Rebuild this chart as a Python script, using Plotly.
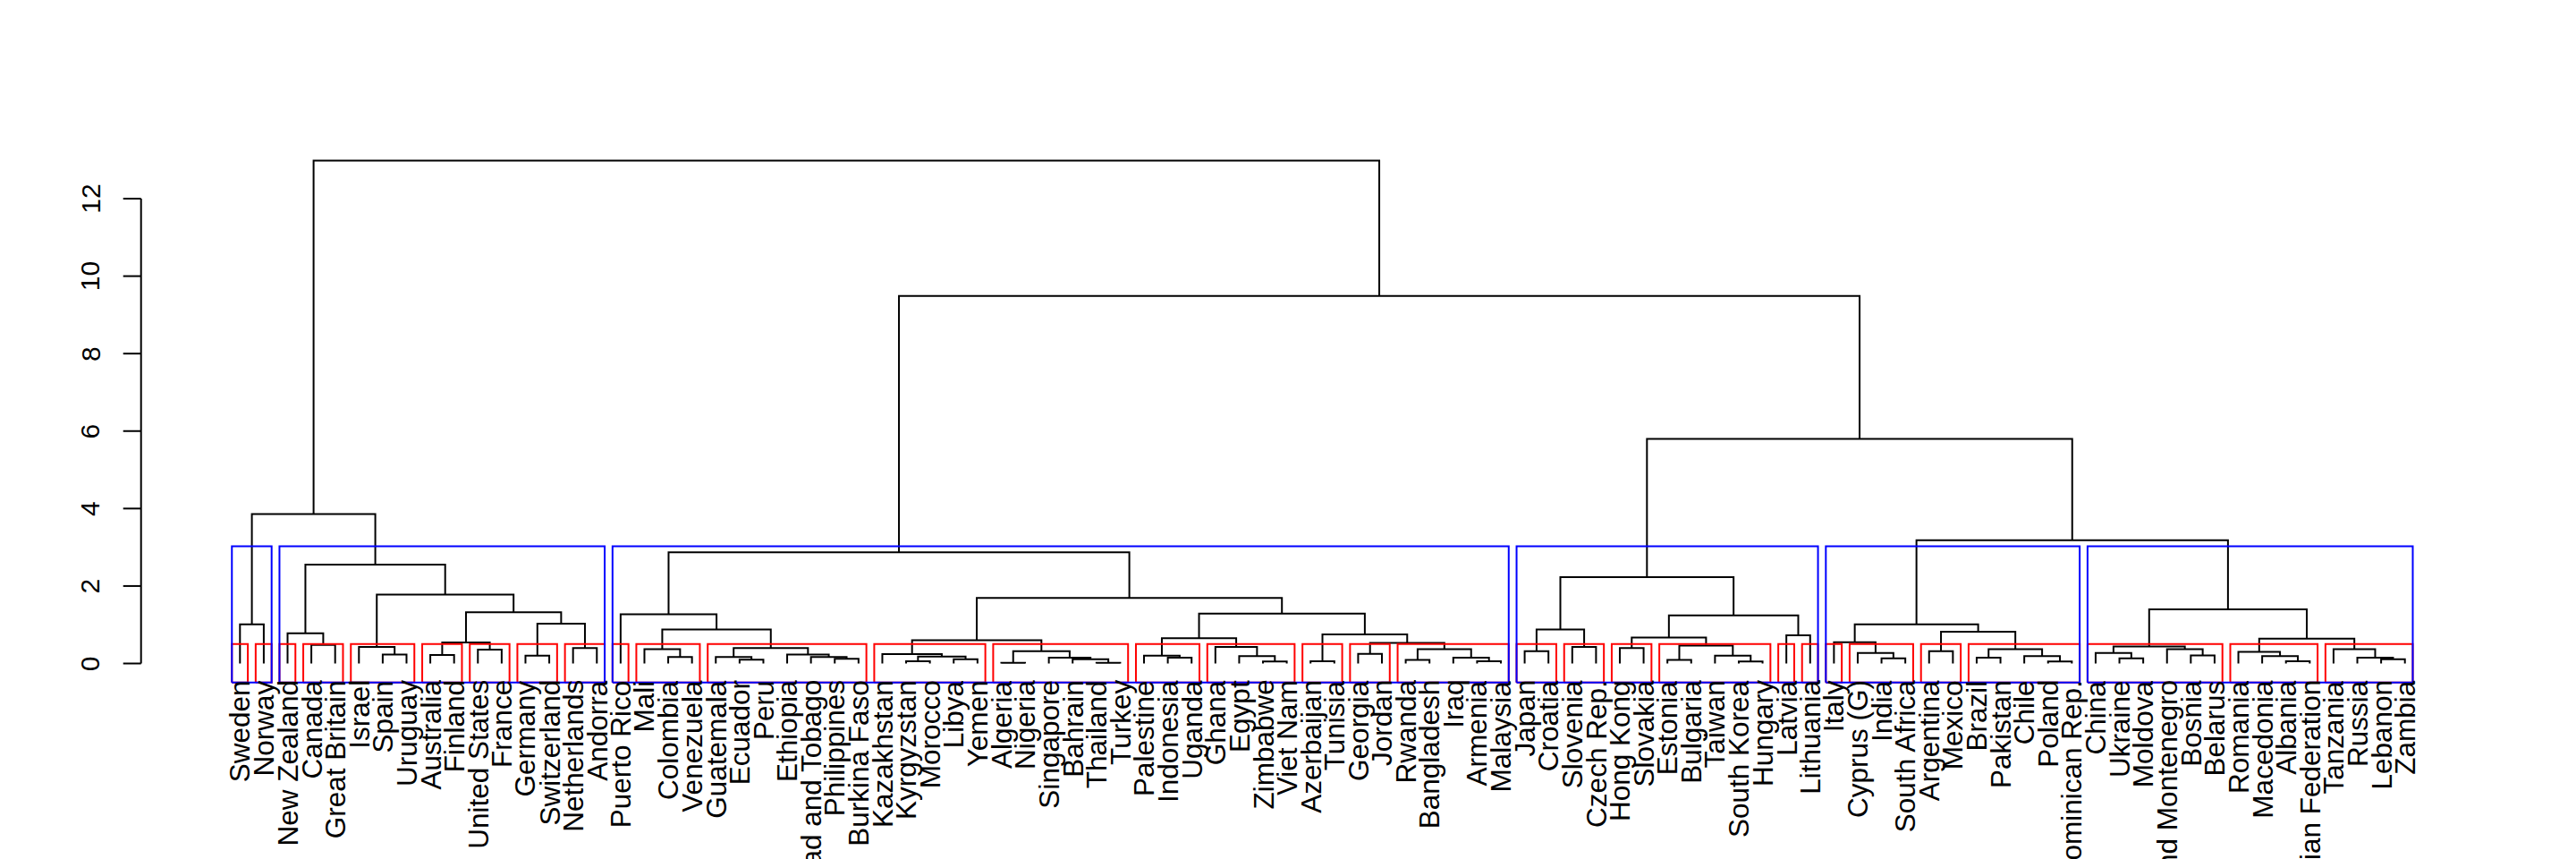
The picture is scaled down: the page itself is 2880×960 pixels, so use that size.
import plotly.graph_objects as go

# ---------------- data ----------------
leaf_labels = [
    "Sweden", "Norway", "New Zealand", "Canada", "Great Britain", "Israel", "Spain", "Uruguay",
    "Australia", "Finland", "United States", "France", "Germany", "Switzerland", "Netherlands", "Andorra",
    "Puerto Rico", "Mali", "Colombia", "Venezuela", "Guatemala", "Ecuador", "Peru", "Ethiopia",
    "Trinidad and Tobago", "Philippines", "Burkina Faso", "Kazakhstan", "Kyrgyzstan", "Morocco", "Libya", "Yemen",
    "Algeria", "Nigeria", "Singapore", "Bahrain", "Thailand", "Turkey", "Palestine", "Indonesia",
    "Uganda", "Ghana", "Egypt", "Zimbabwe", "Viet Nam", "Azerbaijan", "Tunisia", "Georgia",
    "Jordan", "Rwanda", "Bangladesh", "Iraq", "Armenia", "Malaysia", "Japan", "Croatia",
    "Slovenia", "Czech Rep.", "Hong Kong", "Slovakia", "Estonia", "Bulgaria", "Taiwan", "South Korea",
    "Hungary", "Latvia", "Lithuania", "Italy", "Cyprus (G)", "India", "South Africa", "Argentina",
    "Mexico", "Brazil", "Pakistan", "Chile", "Poland", "Dominican Rep.", "China", "Ukraine",
    "Moldova", "Serbia and Montenegro", "Bosnia", "Belarus", "Romania", "Macedonia", "Albania", "Russian Federation",
    "Tanzania", "Russia", "Lebanon", "Zambia",
]

# merges: (node name, left child, right child, merge height)
merges = [
    # western group
    ("SwNo", "Sweden", "Norway", 1.01),
    ("CaGB", "Canada", "Great Britain", 0.48),
    ("NZ", "New Zealand", "CaGB", 0.78),
    ("SpUr", "Spain", "Uruguay", 0.23),
    ("Is", "Israel", "SpUr", 0.43),
    ("AuFi", "Australia", "Finland", 0.22),
    ("USFr", "United States", "France", 0.36),
    ("AFUF", "AuFi", "USFr", 0.54),
    ("GeSw", "Germany", "Switzerland", 0.20),
    ("NeAn", "Netherlands", "Andorra", 0.40),
    ("GSNA", "GeSw", "NeAn", 1.03),
    ("W4", "AFUF", "GSNA", 1.32),
    ("W3", "Is", "W4", 1.78),
    ("W2", "NZ", "W3", 2.55),
    ("W", "SwNo", "W2", 3.86),
    # third group
    ("CoVe", "Colombia", "Venezuela", 0.17),
    ("Ma", "Mali", "CoVe", 0.37),
    ("EcPe", "Ecuador", "Peru", 0.10),
    ("Gu", "Guatemala", "EcPe", 0.17),
    ("PhBF", "Philippines", "Burkina Faso", 0.12),
    ("TT", "Trinidad and Tobago", "PhBF", 0.17),
    ("Et", "Ethiopia", "TT", 0.23),
    ("GuEt", "Gu", "Et", 0.40),
    ("MaGu", "Ma", "GuEt", 0.88),
    ("PR", "Puerto Rico", "MaGu", 1.27),
    ("KyMo", "Kyrgyzstan", "Morocco", 0.06),
    ("LiYe", "Libya", "Yemen", 0.11),
    ("KMLY", "KyMo", "LiYe", 0.18),
    ("Ka", "Kazakhstan", "KMLY", 0.24),
    ("AlNi", "Algeria", "Nigeria", 0.02),
    ("ThTu", "Thailand", "Turkey", 0.02),
    ("Ba", "Bahrain", "ThTu", 0.11),
    ("Si", "Singapore", "Ba", 0.15),
    ("ANSi", "AlNi", "Si", 0.32),
    ("KaAl", "Ka", "ANSi", 0.60),
    ("InUg", "Indonesia", "Uganda", 0.15),
    ("Pa", "Palestine", "InUg", 0.20),
    ("ZiVi", "Zimbabwe", "Viet Nam", 0.05),
    ("Eg", "Egypt", "ZiVi", 0.19),
    ("Gh", "Ghana", "Eg", 0.43),
    ("PaGh", "Pa", "Gh", 0.65),
    ("AzTu", "Azerbaijan", "Tunisia", 0.06),
    ("GeJo", "Georgia", "Jordan", 0.25),
    ("RwBa", "Rwanda", "Bangladesh", 0.09),
    ("ArMa", "Armenia", "Malaysia", 0.06),
    ("Ir", "Iraq", "ArMa", 0.15),
    ("RwIr", "RwBa", "Ir", 0.37),
    ("GeRw", "GeJo", "RwIr", 0.53),
    ("AzGe", "AzTu", "GeRw", 0.75),
    ("PaAz", "PaGh", "AzGe", 1.29),
    ("KaPa", "KaAl", "PaAz", 1.69),
    ("G3", "PR", "KaPa", 2.87),
    # fourth group
    ("JaCr", "Japan", "Croatia", 0.32),
    ("SlCz", "Slovenia", "Czech Rep.", 0.43),
    ("JCSC", "JaCr", "SlCz", 0.88),
    ("HKSl", "Hong Kong", "Slovakia", 0.40),
    ("EsBu", "Estonia", "Bulgaria", 0.09),
    ("SKHu", "South Korea", "Hungary", 0.05),
    ("Ta", "Taiwan", "SKHu", 0.20),
    ("EsTa", "EsBu", "Ta", 0.46),
    ("HKEs", "HKSl", "EsTa", 0.67),
    ("LaLi", "Latvia", "Lithuania", 0.73),
    ("HKLa", "HKEs", "LaLi", 1.24),
    ("G4", "JCSC", "HKLa", 2.23),
    # fifth group
    ("InSA", "India", "South Africa", 0.13),
    ("Cy", "Cyprus (G)", "InSA", 0.27),
    ("It", "Italy", "Cy", 0.55),
    ("ArMe", "Argentina", "Mexico", 0.32),
    ("BrPa", "Brazil", "Pakistan", 0.15),
    ("PoDR", "Poland", "Dominican Rep.", 0.05),
    ("Ch", "Chile", "PoDR", 0.19),
    ("BrCh", "BrPa", "Ch", 0.37),
    ("AMBr", "ArMe", "BrCh", 0.82),
    ("G5", "It", "AMBr", 1.01),
    # sixth group
    ("UkMo", "Ukraine", "Moldova", 0.13),
    ("Cn", "China", "UkMo", 0.27),
    ("BoBe", "Bosnia", "Belarus", 0.21),
    ("SM", "Serbia and Montenegro", "BoBe", 0.37),
    ("CnSM", "Cn", "SM", 0.44),
    ("AlRF", "Albania", "Russian Federation", 0.06),
    ("Mac", "Macedonia", "AlRF", 0.19),
    ("Ro", "Romania", "Mac", 0.30),
    ("LeZa", "Lebanon", "Zambia", 0.11),
    ("Ru", "Russia", "LeZa", 0.15),
    ("Tz", "Tanzania", "Ru", 0.37),
    ("RoTz", "Ro", "Tz", 0.64),
    ("G6", "CnSM", "RoTz", 1.40),
    # top
    ("G56", "G5", "G6", 3.18),
    ("G456", "G4", "G56", 5.80),
    ("G3456", "G3", "G456", 9.49),
    ("root", "W", "G3456", 12.98),
]

y_ticks = [0, 2, 4, 6, 8, 10, 12]
outer_k = 6    # blue boxes
inner_k = 32   # red boxes

# ---------------- geometry (pixel calibration) ----------------
W, H = 2880, 960
LEAF0_PX, LEAF_STEP_PX = 268.3, 26.598
ZERO_PX, UNIT_PX = 741.5, 43.29


def px_to_x(px):
    return 1 + (px - LEAF0_PX) / LEAF_STEP_PX


def px_to_y(py):
    return (ZERO_PX - py) / UNIT_PX


x_range = [px_to_x(0), px_to_x(W)]
y_range = [px_to_y(H), px_to_y(0)]
box_bottom = px_to_y(762.7)

# ---------------- build tree ----------------
pos = {lab: i + 1 for i, lab in enumerate(leaf_labels)}
hgt = {lab: 0.0 for lab in leaf_labels}
span = {lab: (i + 1, i + 1) for i, lab in enumerate(leaf_labels)}
children = {}
dx, dy = [], []
for name, a, b, h in merges:
    xa, xb = pos[a], pos[b]
    dx += [xa, xa, xb, xb, None]
    dy += [hgt[a], h, h, hgt[b], None]
    pos[name] = (xa + xb) / 2
    hgt[name] = h
    span[name] = (min(span[a][0], span[b][0]), max(span[a][1], span[b][1]))
    children[name] = (a, b)

heights_desc = sorted([m[3] for m in merges], reverse=True)


def cut_height(k):
    return (heights_desc[k - 2] + heights_desc[k - 1]) / 2


def clusters(cut):
    out = []

    def walk(node):
        if hgt[node] < cut:
            out.append(span[node])
        else:
            walk(children[node][0])
            walk(children[node][1])

    walk("root")
    return out


def box_path(cut):
    bx, by = [], []
    for lo, hi in clusters(cut):
        x0, x1 = lo - 0.34, hi + 0.33
        bx += [x0, x0, x1, x1, x0, None]
        by += [box_bottom, cut, cut, box_bottom, box_bottom, None]
    return bx, by


fig = go.Figure()
fig.add_trace(go.Scatter(x=dx, y=dy, mode="lines", line=dict(color="black", width=2),
                         hoverinfo="skip", showlegend=False))
rx, ry = box_path(cut_height(inner_k))
fig.add_trace(go.Scatter(x=rx, y=ry, mode="lines", line=dict(color="#FF0000", width=2),
                         hoverinfo="skip", showlegend=False))
bx, by = box_path(cut_height(outer_k))
fig.add_trace(go.Scatter(x=bx, y=by, mode="lines", line=dict(color="#0000FF", width=2),
                         hoverinfo="skip", showlegend=False))

# y axis (drawn as in base R: line spanning tick range)
axis_x = px_to_x(157.7)
tick_x = px_to_x(137.7)
label_x = px_to_x(100.7)
ax_x = [axis_x, axis_x, None]
ax_y = [min(y_ticks), max(y_ticks), None]
for t in y_ticks:
    ax_x += [tick_x, axis_x, None]
    ax_y += [t, t, None]
fig.add_trace(go.Scatter(x=ax_x, y=ax_y, mode="lines", line=dict(color="black", width=2),
                         hoverinfo="skip", showlegend=False))

font_family = "Liberation Sans, Arial, Helvetica, sans-serif"
annotations = []
for t in y_ticks:
    annotations.append(dict(x=label_x, y=t, text=str(t), textangle=-90, showarrow=False,
                            xanchor="center", yanchor="middle", borderpad=0, borderwidth=0,
                            font=dict(family=font_family, size=30, color="black")))
label_top = px_to_y(760)
for lab in leaf_labels:
    annotations.append(dict(x=pos[lab], y=label_top, text=lab, textangle=-90, showarrow=False,
                            xanchor="center", yanchor="top", borderpad=0, borderwidth=0,
                            font=dict(family=font_family, size=31.5, color="black")))

fig.update_layout(
    width=W, height=H,
    margin=dict(l=0, r=0, t=0, b=0),
    paper_bgcolor="white", plot_bgcolor="white",
    xaxis=dict(range=x_range, visible=False, fixedrange=True),
    yaxis=dict(range=y_range, visible=False, fixedrange=True),
    annotations=annotations,
    showlegend=False,
)

fig.write_html("out.html", config={"displayModeBar": False},
               post_script="document.body.style.margin='0';document.body.style.overflow='hidden';")
